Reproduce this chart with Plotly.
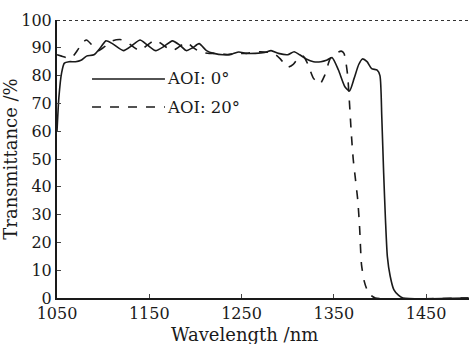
import plotly.graph_objects as go

# AOI 0 deg (solid)
wl_0 = [1050, 1052, 1055, 1058, 1063, 1070, 1076, 1082, 1090, 1097, 1103, 1110, 1122, 1132, 1140,
        1148, 1157, 1166, 1175, 1183, 1190, 1197, 1204, 1212, 1220, 1230, 1240, 1247, 1255, 1265,
        1275, 1282, 1290, 1300, 1307, 1313, 1320, 1328, 1336, 1342, 1348, 1355, 1362, 1367, 1372,
        1377, 1381, 1386, 1391, 1397, 1400, 1402, 1404, 1406, 1408, 1411, 1415, 1420, 1425, 1496]
t_0 = [60, 72, 81, 84.5, 85, 85, 85.5, 87, 87.5, 90, 92.5, 91.5, 89, 91, 92.8,
       91, 89, 90.5, 92.5, 91, 89, 90, 91.5, 89, 88, 87.5, 87.8, 88.5, 88, 88,
       88.3, 89, 88, 87.5, 88.6, 87.5, 86, 85, 85, 85.5, 86.5, 82, 76, 74.5, 79,
       84, 86, 85, 82.5, 82, 80, 65, 45, 28, 15, 8, 3, 1, 0, 0]

# AOI 20 deg (dashed)
wl_20 = [1050, 1055, 1060, 1066, 1072, 1078, 1082, 1088, 1095, 1102, 1110, 1118, 1124, 1132, 1140,
         1148, 1157, 1165, 1175, 1183, 1190, 1198, 1205, 1215, 1225, 1235, 1245, 1255, 1265, 1275,
         1285, 1292, 1300, 1306, 1312, 1317, 1322, 1328, 1335, 1340, 1346, 1352, 1358, 1361, 1363,
         1365, 1367, 1369, 1371, 1373, 1376, 1378, 1380, 1383, 1386, 1390, 1395, 1496]
t_20 = [87.5, 87, 86.5, 86.5, 89, 92, 92.8, 91, 89, 90.5, 92.5, 93, 92.5, 90.5, 89,
        91, 92.8, 91, 89, 90.5, 92, 90, 88.5, 88, 88, 87.5, 88, 88, 88.5, 88.5,
        88, 86, 83, 84, 86.5, 87, 84, 79, 77, 80, 86, 88, 88.8, 88, 85,
        80, 70, 59, 50, 44, 35, 25, 12, 6, 3, 1, 0, 0]

x_ticks = [1050, 1150, 1250, 1350, 1450]
y_ticks = list(range(0, 101, 10))
series_names = ["AOI: 0°", "AOI: 20°"]
series_dash = ["solid", "dash"]

FONT = "DejaVu Serif"
INK = "#1a1a1a"

fig = go.Figure()
for wl, t, name, dash in [(wl_0, t_0, series_names[0], series_dash[0]),
                          (wl_20, t_20, series_names[1], series_dash[1])]:
    fig.add_trace(go.Scatter(x=wl, y=t, mode="lines", name=name, showlegend=False,
                             line=dict(color=INK, width=1.6, dash=dash, shape="spline", smoothing=0.6)))

# dotted top border at 100 %
fig.add_shape(type="line", xref="paper", yref="y", x0=0, x1=1, y0=100, y1=100,
              line=dict(color="#333", width=2, dash="dot"))

# hand-made legend with long sample lines (inside the plot)
legend_rows = [0.788, 0.687]
for yy, name, dash in zip(legend_rows, series_names, series_dash):
    fig.add_shape(type="line", xref="paper", yref="paper", x0=0.085, x1=0.262, y0=yy, y1=yy,
                  line=dict(color=INK, width=1.6, dash=dash))
    fig.add_annotation(x=0.262, y=yy, xref="paper", yref="paper", xanchor="left", yanchor="middle",
                       text=name, showarrow=False, font=dict(family=FONT, size=16.5, color=INK))

# x-axis title (centred like the reference)
fig.add_annotation(x=0.456, y=-0.133, xref="paper", yref="paper", xanchor="center", yanchor="middle",
                   text="Wavelength /nm", showarrow=False, font=dict(family=FONT, size=18, color=INK))

fig.update_layout(
    width=469, height=344,
    margin=dict(l=57, r=0, t=20, b=46),
    paper_bgcolor="white", plot_bgcolor="white",
    font=dict(family=FONT, size=16, color=INK),
    showlegend=False,
    xaxis=dict(range=[1050, 1496.5], tickvals=x_ticks, ticks="inside", ticklen=4,
               tickfont=dict(family=FONT, size=16, color=INK),
               showline=True, linecolor=INK, linewidth=2, showgrid=False, zeroline=False),
    yaxis=dict(range=[0, 100], tickvals=y_ticks, ticks="inside", ticklen=4,
               tickfont=dict(family=FONT, size=16, color=INK),
               showline=True, linecolor=INK, linewidth=2, showgrid=False, zeroline=False,
               title=dict(text="Transmittance /%", standoff=2, font=dict(family=FONT, size=18, color=INK))),
)

fig.write_html("out.html")
